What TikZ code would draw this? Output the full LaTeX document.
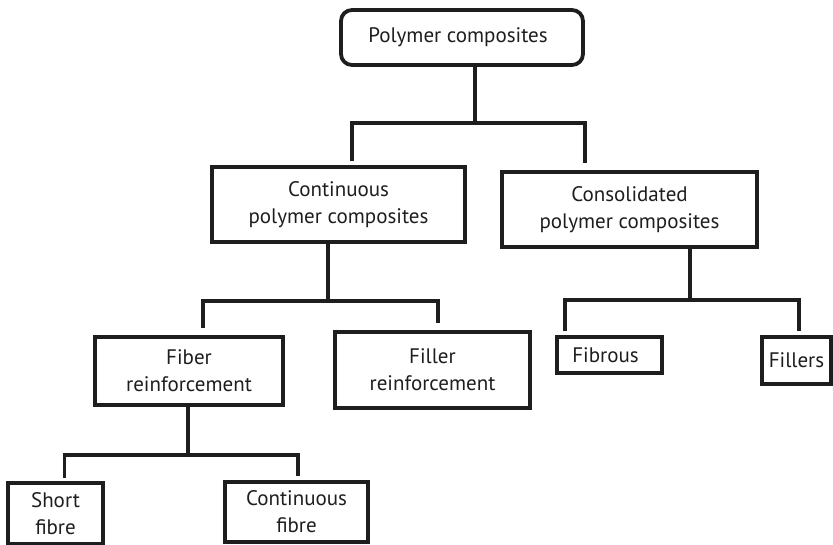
\documentclass[tikz,border=0pt]{standalone}
\usepackage{fontspec}
\setmainfont{PT Sans}
\usetikzlibrary{calc}
\definecolor{ink}{HTML}{1E1E1E}
\tikzset{
  box/.style={draw=ink, line width=3.8pt, rectangle, inner sep=0pt, align=center,
    font=\fontsize{21}{27}\selectfont, text=ink},
  conn/.style={draw=ink, line width=3.4pt}
}
\begin{document}
\begin{tikzpicture}[x=1pt,y=-1pt]
\useasboundingbox (0,0) rectangle (833,545);
% boxes
\node[box, rounded corners=11pt, minimum width=242pt, minimum height=55pt] (top) at (462,37.5) {\hspace*{-8pt}Polymer composites};
\node[box, minimum width=253pt, minimum height=75pt] (cont) at (338.5,204.5) {Continuous\\polymer composites};
\node[box, minimum width=255pt, minimum height=75pt] (cons) at (629.5,209.5) {Consolidated\\polymer composites};
\node[box, minimum width=188pt, minimum height=68pt] (fiber) at (189,371) {Fiber\\reinforcement};
\node[box, minimum width=195pt, minimum height=76pt] (filler) at (432.5,370) {Filler\\reinforcement};
\node[box, minimum width=105pt, minimum height=36pt] (fibrous) at (609.5,355) {\hspace*{-8pt}Fibrous};
\node[box, minimum width=69pt, minimum height=47pt] (fillers) at (796.5,360.5) {Fillers};
\node[box, minimum width=95pt, minimum height=61pt] (short) at (55.5,513.5) {Short\\fibre};
\node[box, minimum width=143pt, minimum height=60pt] (contf) at (296.5,512) {Continuous\\fibre};
% junctions
\coordinate (j1) at (475,123);
\coordinate (j2) at (328,301);
\coordinate (j3) at (690,300);
\coordinate (j4) at (188,455);
% connectors
\draw[conn] (top.south -| j1) -- (j1);
\draw[conn] ([xshift=13.5pt,yshift=4pt]cont.north) |- (j1) -| ([xshift=-44.5pt,yshift=7pt]cons.north);
\draw[conn] (cont.south -| j2) -- (j2);
\draw[conn] ([xshift=14pt,yshift=7pt]fiber.north) |- (j2) -| ([xshift=5.5pt,yshift=7pt]filler.north);
\draw[conn] (cons.south -| j3) -- (j3);
\draw[conn] ([xshift=-44.5pt,yshift=4pt]fibrous.north) |- (j3) -| ([xshift=2.5pt,yshift=4pt]fillers.north);
\draw[conn] (fiber.south -| j4) -- (j4);
\draw[conn] ([xshift=9pt,yshift=3pt]short.north) |- (j4) -| ([xshift=1.5pt,yshift=4pt]contf.north);
\end{tikzpicture}
\end{document}
